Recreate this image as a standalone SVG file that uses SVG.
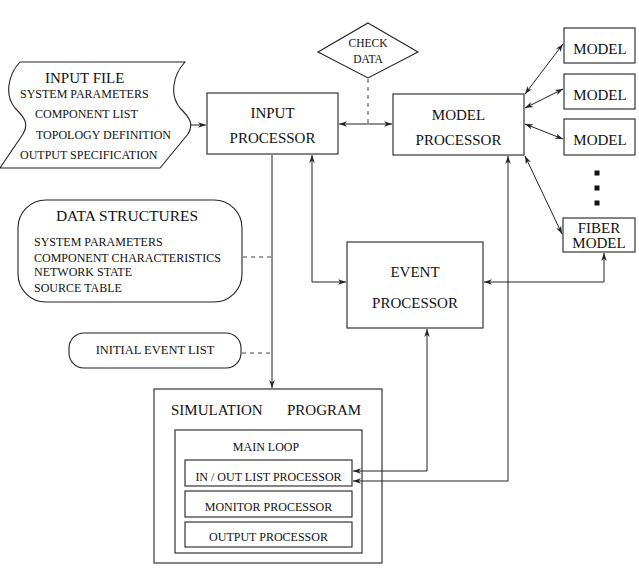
<svg xmlns="http://www.w3.org/2000/svg" width="639" height="569" viewBox="0 0 639 569">
<defs>
<marker id="ah" viewBox="0 0 10 10" refX="10" refY="5" markerWidth="8" markerHeight="8" markerUnits="userSpaceOnUse" orient="auto-start-reverse">
<path d="M0,1.5 L10,5 L0,8.5 L3,5 Z" fill="#222"/>
</marker>
<style>
.box{fill:#fff;stroke:#222;stroke-width:1.1}
text{font-family:'Liberation Serif','DejaVu Serif',serif;fill:#111}
.c{text-anchor:middle}
.s15{font-size:15px}
.s12{font-size:12px}
.s11{font-size:11.5px}
.ln{fill:none;stroke:#222;stroke-width:1}
.dash{fill:none;stroke:#444;stroke-width:1;stroke-dasharray:4,4}
.a2{marker-start:url(#ah);marker-end:url(#ah)}
.a1{marker-end:url(#ah)}
</style>
</defs>
<rect width="639" height="569" fill="#fff"/>

<g id="input-file" font-family="Liberation Serif, serif">
<path class="box" d="M20,62 H185 C172,76 170,96 180,108 C190,118 194,124 188,134 L160,168 H0 L23,134 C29,124 25,118 15,108 C5,96 7,76 20,62 Z"/>
<text class="s15" x="45" y="83">INPUT FILE</text>
<text class="s12" x="20" y="98">SYSTEM PARAMETERS</text>
<text class="s12" x="35" y="118">COMPONENT LIST</text>
<text class="s12" x="36" y="139">TOPOLOGY DEFINITION</text>
<text class="s12" x="20" y="159">OUTPUT SPECIFICATION</text>
</g>

<g id="input-processor">
<rect class="box" x="207" y="93" width="131" height="61"/>
<text class="s15 c" x="272.5" y="118">INPUT</text>
<text class="s15 c" x="272.5" y="143">PROCESSOR</text>
</g>

<g id="check-data">
<path class="box" d="M368,23 L418,52 L368,78 L318,52 Z"/>
<text class="s11 c" x="368" y="47">CHECK</text>
<text class="s11 c" x="368" y="63">DATA</text>
</g>

<g id="model-processor">
<rect class="box" x="393" y="94" width="131" height="61"/>
<text class="s15 c" x="458.5" y="120">MODEL</text>
<text class="s15 c" x="458.5" y="145">PROCESSOR</text>
</g>

<g id="model-1">
<rect class="box" x="564" y="28" width="71" height="35"/>
<text class="s15 c" x="600" y="54">MODEL</text>
</g>
<g id="model-2">
<rect class="box" x="564" y="74" width="71" height="35"/>
<text class="s15 c" x="600" y="100">MODEL</text>
</g>
<g id="model-3">
<rect class="box" x="564" y="119" width="71" height="36"/>
<text class="s15 c" x="600" y="145">MODEL</text>
</g>

<g id="ellipsis">
<rect x="594.5" y="170.5" width="5" height="5" fill="#111"/>
<rect x="594.5" y="185.5" width="5" height="5" fill="#111"/>
<rect x="594.5" y="200.5" width="5" height="5" fill="#111"/>
</g>

<g id="fiber-model">
<rect class="box" x="563" y="218" width="72" height="34"/>
<text class="s15 c" x="599" y="233">FIBER</text>
<text class="s15 c" x="599" y="248">MODEL</text>
</g>

<g id="event-processor">
<rect class="box" x="347" y="242" width="136" height="86"/>
<text class="s15 c" x="415" y="277">EVENT</text>
<text class="s15 c" x="415" y="308">PROCESSOR</text>
</g>

<g id="data-structures">
<rect class="box" x="18" y="200" width="224" height="102" rx="28" ry="28"/>
<text class="c" style="font-size:15.5px" x="127" y="221">DATA STRUCTURES</text>
<text class="s12" x="34" y="246">SYSTEM PARAMETERS</text>
<text class="s12" x="34" y="262">COMPONENT CHARACTERISTICS</text>
<text class="s12" x="34" y="276">NETWORK STATE</text>
<text class="s12" x="34" y="292">SOURCE TABLE</text>
</g>

<g id="initial-event-list">
<rect class="box" x="69" y="333" width="172" height="35" rx="15" ry="15"/>
<text class="c" style="font-size:12.5px" x="155" y="354">INITIAL EVENT LIST</text>
</g>

<g id="simulation-program">
<rect class="box" x="154" y="389" width="228" height="174"/>
<text class="s15" x="171" y="415">SIMULATION</text>
<text class="s15" x="287" y="415">PROGRAM</text>
</g>

<g id="main-loop">
<rect class="box" x="175" y="430" width="187" height="123"/>
<text class="s12 c" x="266" y="451">MAIN LOOP</text>
</g>

<g id="in-out-list-processor">
<rect class="box" x="185" y="460" width="167" height="26"/>
<text class="s12 c" x="268.5" y="481">IN / OUT LIST PROCESSOR</text>
</g>

<g id="monitor-processor">
<rect class="box" x="185" y="491" width="167" height="26"/>
<text class="s12 c" x="268.5" y="511">MONITOR PROCESSOR</text>
</g>

<g id="output-processor">
<rect class="box" x="185" y="522" width="167" height="25"/>
<text class="s12 c" x="268.5" y="541">OUTPUT PROCESSOR</text>
</g>

<g id="connectors">
<path class="ln a1" d="M191,125 H206"/>
<path class="ln a2" d="M339,124 H392"/>
<path class="dash" d="M368,79 V124"/>
<path class="ln a2" d="M525,94 L563,44"/>
<path class="ln a2" d="M525,108 L563,89"/>
<path class="ln a2" d="M525,124 L563,139"/>
<path class="ln a2" d="M525,156 L562,234"/>
<path class="ln a2" d="M604,253 V282 H484"/>
<path class="ln a2" d="M312,155 V282 H346"/>
<path class="ln a1" d="M272,155 V388"/>
<path class="ln a2" d="M427,329 V471 H353"/>
<path class="ln a2" d="M508,156 V481 H353"/>
<path class="dash" d="M243,257 H271"/>
<path class="dash" d="M242,353 H271"/>
</g>
</svg>
